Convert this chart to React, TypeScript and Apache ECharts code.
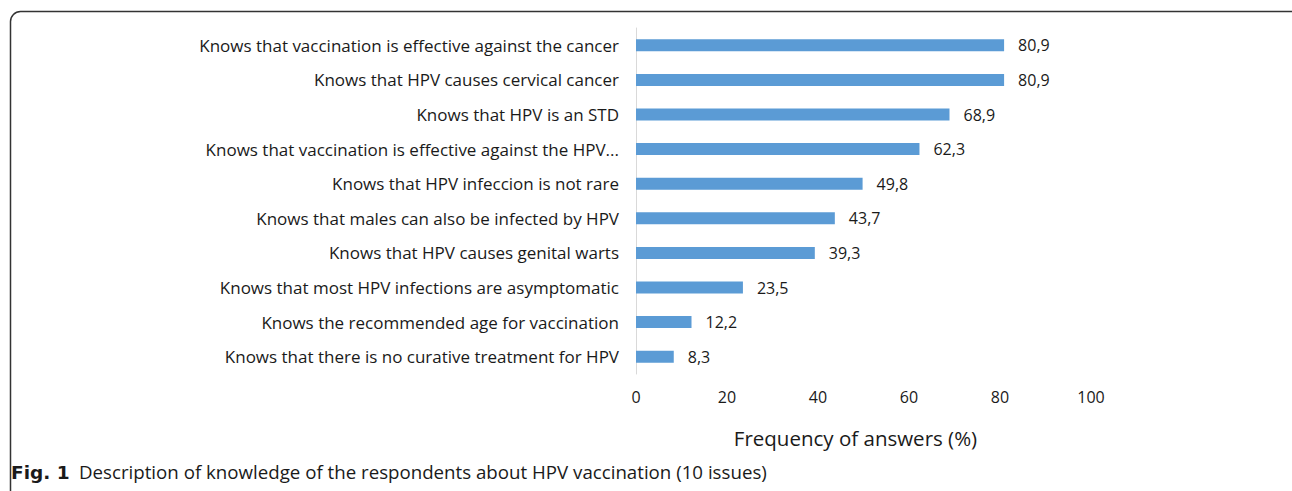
import React, { useEffect, useRef } from "react";
import * as echarts from "echarts";

const categories = [
  "Knows that vaccination is effective against the cancer",
  "Knows that HPV causes cervical cancer",
  "Knows that HPV is an STD",
  "Knows that vaccination is effective against the HPV...",
  "Knows that HPV infeccion is not rare",
  "Knows that males can also be infected by HPV",
  "Knows that HPV causes genital warts",
  "Knows that most HPV infections are asymptomatic",
  "Knows the recommended age for vaccination",
  "Knows that there is no curative treatment for HPV",
];
const values = [80.9, 80.9, 68.9, 62.3, 49.8, 43.7, 39.3, 23.5, 12.2, 8.3];
const xTicks = [0, 20, 40, 60, 80, 100];
const axisName = "Frequency of answers (%)";
const captionBold = "Fig. 1";
const captionText = "Description of knowledge of the respondents about HPV vaccination (10 issues)";

export default function App() {
  const ref = useRef<HTMLDivElement>(null);
  useEffect(() => {
    if (!ref.current) return;
    const chart = echarts.init(ref.current, undefined, { renderer: "svg" });
    const font = "'Open Sans', Lato, sans-serif";
    chart.setOption({
      animation: false,
      backgroundColor: "#ffffff",
      grid: { left: 636, right: 201, top: 28, bottom: 117, containLabel: false },
      xAxis: {
        type: "value",
        min: xTicks[0],
        max: xTicks[xTicks.length - 1],
        interval: 20,
        axisLine: { show: false },
        axisTick: { show: false },
        splitLine: { show: false },
        axisLabel: { color: "#1a1a1a", fontSize: 16, fontFamily: font, margin: 15 },
        name: axisName,
        nameLocation: "middle",
        nameGap: 53,
        nameTextStyle: {
          color: "#1a1a1a",
          fontSize: 20.5,
          fontFamily: font,
          padding: [0, 16, 0, 0],
        },
      },
      yAxis: {
        type: "category",
        data: categories,
        inverse: true,
        axisLine: { show: true, lineStyle: { color: "#d9d9d9", width: 1 } },
        axisTick: { show: false },
        axisLabel: { color: "#1a1a1a", fontSize: 17, fontFamily: font, margin: 17 },
      },
      series: [
        {
          type: "bar",
          data: values,
          barWidth: 12,
          itemStyle: { color: "#5b9bd5" },
          label: {
            show: true,
            position: "right",
            distance: 14,
            color: "#1a1a1a",
            fontSize: 16,
            fontFamily: font,
            formatter: (p: any) => String(p.value).replace(".", ","),
          },
        },
      ],
      graphic: [
        {
          type: "rect",
          shape: { x: 10.5, y: 11.5, width: 1300, height: 520, r: 10 },
          style: { fill: "none", stroke: "#333", lineWidth: 1.5 },
        },
        {
          type: "text",
          left: 11,
          top: 463,
          style: {
            text: captionBold,
            font: "bold 18.5px 'DejaVu Sans', 'Open Sans', sans-serif",
            fill: "#1a1a1a",
          },
        },
        {
          type: "text",
          left: 79,
          top: 462,
          style: {
            text: captionText,
            font: "18.7px 'Open Sans', Lato, sans-serif",
            fill: "#1a1a1a",
          },
        },
      ],
    });
    return () => chart.dispose();
  }, []);
  return (
    <div
      ref={ref}
      style={{ position: "fixed", left: 0, top: 0, width: 1292, height: 491 }}
    />
  );
}
